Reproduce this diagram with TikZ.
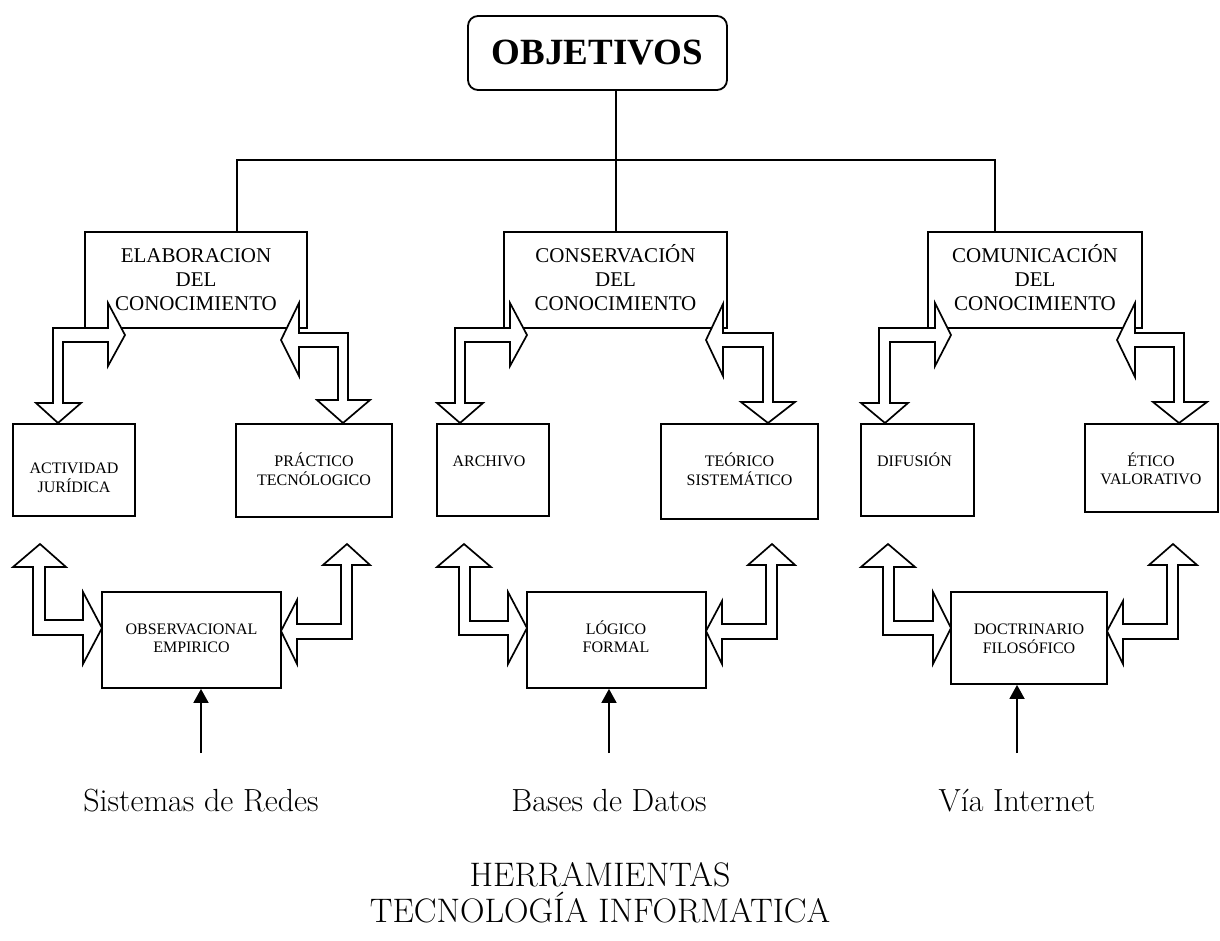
\documentclass[tikz,border=0pt]{standalone}
\usepackage{fontspec}
\newfontfamily\tnr{Liberation Serif}
\usetikzlibrary{arrows.meta,fit}

% centred lines whose baseline is that of the first line
\newcommand\stack[1]{\begin{tabular}[t]{@{}c@{}}#1\end{tabular}}
% rectangle node from its two corners
\newcommand\rectnode[5]{%
  \coordinate (#1-nw) at (#2,#3);
  \coordinate (#1-se) at (#4,#5);
  \node[box, fit=(#1-nw)(#1-se)] (#1) {};}

\begin{document}
\begin{tikzpicture}[x=1pt,y={(0pt,-1pt)},
  line width=1.8pt, line join=miter,
  box/.style={draw, inner sep=0pt},
  objbox/.style={draw, rounded corners=10pt, inner sep=0pt,
    minimum width=259pt, minimum height=74pt,
    font=\tnr\bfseries\fontsize{37}{40}\selectfont},
  big/.style={font=\tnr\fontsize{21}{24}\selectfont, inner sep=0pt, anchor=base},
  small/.style={font=\tnr\fontsize{16}{18.5}\selectfont, inner sep=0pt, anchor=base},
  blockarrow/.style={draw, fill=white, line width=1.7pt},
  feed/.style={-{Triangle[width=15pt,length=14pt]}, line width=1.8pt},
  tool/.style={font=\fontsize{32}{35}\selectfont, inner sep=0pt, anchor=base},
  toolcaps/.style={font=\fontsize{34}{37}\selectfont, inner sep=0pt, anchor=base}]

\useasboundingbox (0,0) rectangle (1220,940);
\fill[white] (0,0) rectangle (1220,940);

% top of the tree
\node[objbox] (obj) at (597.5,53) {OBJETIVOS};

\rectnode{elab}{85}{232}{307}{328}
\rectnode{cons}{504}{232}{727}{328}
\rectnode{comu}{928}{232}{1142}{328}

\coordinate (jl) at (237,160);
\coordinate (jm) at (616,160);
\coordinate (jr) at (995,160);
\draw (obj.south -| jm) -- (jm |- cons.north);
\draw (jl |- elab.north) -- (jl) -- (jr) -- (jr |- comu.north);

\node[big] (elab-t) at (196,262) {\stack{ELABORACION\\DEL\\CONOCIMIENTO}};
\node[big] (cons-t) at (615.5,262) {\stack{CONSERVACIÓN\\DEL\\CONOCIMIENTO}};
\node[big] (comu-t) at (1035,262) {\stack{COMUNICACIÓN\\DEL\\CONOCIMIENTO}};

% middle row
\rectnode{act}{13}{424}{135}{516}
\rectnode{pra}{236}{424}{392}{517}
\rectnode{arc}{437}{424}{549}{516}
\rectnode{teo}{661}{424}{818}{519}
\rectnode{dif}{861}{424}{974}{516}
\rectnode{eti}{1085}{424}{1218}{512}

\node[small] (act-t) at (74,473) {\stack{ACTIVIDAD\\JURÍDICA}};
\node[small] (pra-t) at (314,466) {\stack{PRÁCTICO\\TECNÓLOGICO}};
\node[small] (arc-t) at (489,466) {ARCHIVO};
\node[small] (teo-t) at (739.5,466) {\stack{TEÓRICO\\SISTEMÁTICO}};
\node[small] (dif-t) at (914.5,466) {DIFUSIÓN};
\node[small] (eti-t) at (1151,466) {\stack{ÉTICO\\VALORATIVO}};

% bottom row
\rectnode{obs}{102}{592}{281}{688}
\rectnode{log}{527}{592}{706}{688}
\rectnode{doc}{951}{592}{1107}{684}

\node[small] (obs-t) at (191.5,634) {\stack{OBSERVACIONAL\\EMPIRICO}};
\node[small] (log-t) at (616,634) {\stack{LÓGICO\\FORMAL}};
\node[small] (doc-t) at (1029,634) {\stack{DOCTRINARIO\\FILOSÓFICO}};

% elbow block arrows under the top boxes
\draw[blockarrow] (125,335) -- (108,303) -- (108,328) -- (53,328) -- (53,403) -- (36,403) -- (58,423) -- (81,403) -- (63,403) -- (63,342) -- (108,342) -- (108,366) -- cycle;
\draw[blockarrow] (527,335) -- (510,303) -- (510,328) -- (455,328) -- (455,403) -- (437,403) -- (460,423) -- (483,403) -- (465,403) -- (465,342) -- (510,342) -- (510,366) -- cycle;
\draw[blockarrow] (951,335) -- (935,303) -- (935,328) -- (879,328) -- (879,403) -- (861,403) -- (885,423) -- (908,403) -- (890,403) -- (890,342) -- (935,342) -- (935,366) -- cycle;

\draw[blockarrow] (281,340) -- (299,303) -- (299,333) -- (348,333) -- (348,400) -- (370,400) -- (343,423) -- (317,400) -- (338,400) -- (338,347) -- (299,347) -- (299,376) -- cycle;
\draw[blockarrow] (706,340) -- (723,304) -- (723,333) -- (773,333) -- (773,402) -- (795,402) -- (768,423) -- (741,402) -- (763,402) -- (763,347) -- (723,347) -- (723,376) -- cycle;
\draw[blockarrow] (1117,340) -- (1135,303) -- (1135,333) -- (1184,333) -- (1184,402) -- (1207,402) -- (1179,423) -- (1153,402) -- (1174,402) -- (1174,347) -- (1135,347) -- (1135,377) -- cycle;

% elbow block arrows beside the bottom boxes
\draw[blockarrow] (40,544) -- (66,567) -- (45,567) -- (45,620) -- (83,620) -- (83,592) -- (102,628) -- (83,664) -- (83,635) -- (33,635) -- (33,567) -- (13,567) -- cycle;
\draw[blockarrow] (464,544) -- (491,567) -- (470,567) -- (470,621) -- (508,621) -- (508,592) -- (527,628) -- (508,664) -- (508,635) -- (459,635) -- (459,567) -- (437,567) -- cycle;
\draw[blockarrow] (888,544) -- (915,567) -- (894,567) -- (894,621) -- (933,621) -- (933,592) -- (951,628) -- (933,664) -- (933,635) -- (883,635) -- (883,567) -- (861,567) -- cycle;

\draw[blockarrow] (281,631) -- (297,600) -- (297,624) -- (341,624) -- (341,565) -- (323,565) -- (347,544) -- (370,565) -- (352,565) -- (352,639) -- (297,639) -- (297,664) -- cycle;
\draw[blockarrow] (706,631) -- (722,601) -- (722,624) -- (766,624) -- (766,565) -- (748,565) -- (772,544) -- (795,565) -- (777,565) -- (777,639) -- (722,639) -- (722,664) -- cycle;
\draw[blockarrow] (1107,631) -- (1123,601) -- (1123,624) -- (1167,624) -- (1167,565) -- (1149,565) -- (1173,544) -- (1197,565) -- (1178,565) -- (1178,639) -- (1123,639) -- (1123,664) -- cycle;

% inputs from the tools
\coordinate (s1) at (201,753);
\coordinate (s2) at (609,753);
\coordinate (s3) at (1017,753);
\draw[feed] (s1) -- (s1 |- obs.south);
\draw[feed] (s2) -- (s2 |- log.south);
\draw[feed] (s3) -- (s3 |- doc.south);

\node[tool] (redes) at (201,811) {Sistemas de Redes};
\node[tool] (datos) at (609,811) {Bases de Datos};
\node[tool] (inet) at (1017,811) {Vía Internet};

\node[toolcaps] (herr) at (600,886) {HERRAMIENTAS};
\node[toolcaps] (tec) at (600,922) {TECNOLOGÍA INFORMATICA};
\end{tikzpicture}
\end{document}
